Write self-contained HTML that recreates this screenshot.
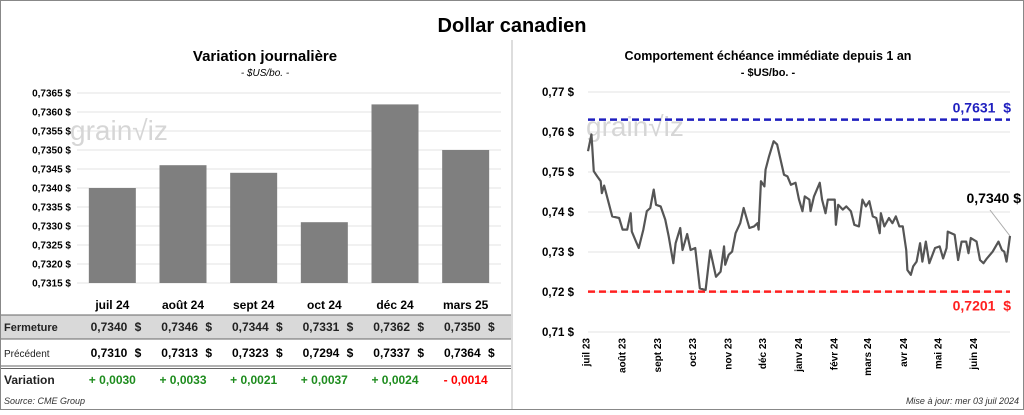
<!DOCTYPE html>
<html><head><meta charset="utf-8"><style>
body{margin:0;width:1024px;height:410px;overflow:hidden;background:#fff;font-family:"Liberation Sans",sans-serif}
svg text{font-family:"Liberation Sans",sans-serif}
</style></head><body>
<svg id="s" width="1024" height="410" viewBox="0 0 1024 410" xmlns="http://www.w3.org/2000/svg">
<rect x="0.5" y="0.5" width="1023" height="409" fill="#fff" stroke="#888"/>
<line x1="512" y1="40" x2="512" y2="409" stroke="#bbb"/>
<text x="512" y="32" text-anchor="middle" font-size="20" font-weight="bold">Dollar canadien</text>
<text x="265" y="61" text-anchor="middle" font-size="15" font-weight="bold">Variation  journalière</text>
<text x="265" y="76" text-anchor="middle" font-size="10" font-style="italic">- $US/bo. -</text>
<text x="768" y="60" text-anchor="middle" font-size="12.5" font-weight="bold">Comportement échéance immédiate depuis 1 an</text>
<text x="768" y="76" text-anchor="middle" font-size="11" font-weight="bold">- $US/bo. -</text>
<g id="left"></g>
<g id="right"></g>
<g id="table"></g>
<text x="4" y="404" font-size="9" font-style="italic" fill="#333">Source: CME Group</text>
<text x="1019" y="404" text-anchor="end" font-size="9" font-style="italic" fill="#333">Mise à jour: mer 03 juil 2024</text>
</svg>
<script>
const barCats=["juil 24","août 24","sept 24","oct 24","déc 24","mars 25"];
const closeVals=[0.7340,0.7346,0.7344,0.7331,0.7362,0.7350];
const prevVals=[0.7310,0.7313,0.7323,0.7294,0.7337,0.7364];
const varLabels=["+ 0,0030","+ 0,0033","+ 0,0021","+ 0,0037","+ 0,0024","- 0,0014"];
const barTicks=[0.7315,0.7320,0.7325,0.7330,0.7335,0.7340,0.7345,0.7350,0.7355,0.7360,0.7365];
const lineDays=[0,3,5,8,11,12,14,18,21,27,30,34,37,38,44,48,51,54,57,59,63,67,70,74,76,80,82,86,89,93,97,102,106,111,115,118,119,122,125,128,132,135,140,144,147,148,150,153,154,157,161,164,167,170,173,176,180,183,186,188,192,193,196,201,203,206,208,214,215,217,221,224,228,231,235,238,241,244,247,250,253,254,257,261,264,267,270,273,276,277,280,282,285,288,290,293,296,301,305,308,311,312,318,321,324,328,330,332,337,340,343,346,351,356,359,361,363,366];
const lineVals=[0.7552,0.7594,0.7502,0.7489,0.7477,0.7447,0.7466,0.7422,0.7389,0.7385,0.7356,0.7356,0.7397,0.7351,0.7310,0.7356,0.7402,0.7410,0.7456,0.7418,0.7414,0.7381,0.7339,0.7272,0.7322,0.7360,0.7305,0.7345,0.7305,0.7310,0.7209,0.7205,0.7304,0.7238,0.7251,0.7314,0.7268,0.7293,0.7301,0.7347,0.7372,0.7410,0.7360,0.7364,0.7372,0.7356,0.7477,0.7464,0.7506,0.7539,0.7577,0.7569,0.7531,0.7493,0.7489,0.7468,0.7473,0.7431,0.7402,0.7439,0.7431,0.7402,0.7439,0.7473,0.7431,0.7397,0.7431,0.7431,0.7368,0.7418,0.7406,0.7414,0.7402,0.7368,0.7364,0.7431,0.7414,0.7427,0.7389,0.7385,0.7347,0.7397,0.7364,0.7385,0.7372,0.7389,0.7364,0.7364,0.7305,0.7255,0.7243,0.7264,0.7276,0.7322,0.7276,0.7326,0.7272,0.7310,0.7314,0.7284,0.7310,0.7351,0.7343,0.7280,0.7326,0.7326,0.7297,0.7335,0.7326,0.7280,0.7272,0.7284,0.7301,0.7326,0.7305,0.7301,0.7276,0.7340];
const lineTicks=[0.71,0.72,0.73,0.74,0.75,0.76,0.77];
const monthLabels=["juil 23","août 23","sept 23","oct 23","nov 23","déc 23","janv 24","févr 24","mars 24","avr 24","mai 24","juin 24"];
const monthDays=[-2,29,60,90,121,151,182,213,242,273,303,334];
const highVal=0.7631, lowVal=0.7201, lastVal=0.7340;

const NS="http://www.w3.org/2000/svg";
function mk(p,t,a,txt){const e=document.createElementNS(NS,t);for(const k in a)e.setAttribute(k,a[k]);if(txt!==undefined)e.textContent=txt;p.appendChild(e);return e;}
const fmt=(v,d)=>v.toFixed(d).replace('.',',');

const L=document.getElementById('left');
const bx0=77,bx1=501,by=v=>283-(v-0.7315)/0.0005*19;
const bw=(bx1-bx0)/barCats.length;
barTicks.forEach(t=>{
 const g=mk(L,'line',{x1:bx0,x2:bx1,y1:by(t),y2:by(t),stroke:'#e3e3e3'});
 
 const l=mk(L,'text',{x:71,y:by(t)+3.5,'text-anchor':'end','font-size':'10','font-weight':'bold'},fmt(t,4)+' $');
 
});
const wm1=mk(L,'text',{x:70,y:140,'font-size':'28',fill:'#d6d6d6'},'grain\u221Aiz');

closeVals.forEach((v,i)=>{
 const cx=bx0+bw*(i+0.5);
 const r=mk(L,'rect',{x:cx-23.5,y:by(v),width:47,height:283-by(v),fill:'#7f7f7f'});
 
});

const T=document.getElementById('table');
const colX=i=>bx0+bw*(i+0.5);
mk(T,'rect',{x:1,y:315,width:510,height:24,fill:'#d9d9d9'});
mk(T,'line',{x1:1,x2:511,y1:315,y2:315,stroke:'#666'});
mk(T,'line',{x1:1,x2:511,y1:339,y2:339,stroke:'#666'});
mk(T,'line',{x1:1,x2:511,y1:366,y2:366,stroke:'#666'});
mk(T,'line',{x1:1,x2:511,y1:368.5,y2:368.5,stroke:'#666'});
const rl=[['Fermeture',331,11,'bold'],['Précédent',357,10,'normal'],['Variation',384,12,'bold']];
rl.forEach(r=>{const e=mk(T,'text',{x:4,y:r[1],'font-size':r[2],'font-weight':r[3],fill:'#222'},r[0]);});
barCats.forEach((c,i)=>{
 const x=colX(i);
 const h=mk(T,'text',{x:x,y:309,'text-anchor':'middle','font-size':'12','font-weight':'bold'},c);
 
 const a=mk(T,'text',{x:x+15,y:331,'text-anchor':'end','font-size':'12','font-weight':'bold',fill:'#222'},fmt(closeVals[i],4));
 
 const a2=mk(T,'text',{x:x+29,y:331,'text-anchor':'end','font-size':'12','font-weight':'bold',fill:'#222'},'$');
 
 const b=mk(T,'text',{x:x+15,y:357,'text-anchor':'end','font-size':'12','font-weight':'bold'},fmt(prevVals[i],4));
 
 const b2=mk(T,'text',{x:x+29,y:357,'text-anchor':'end','font-size':'12','font-weight':'bold'},'$');
 
 const neg=varLabels[i].startsWith('-');
 const d=mk(T,'text',{x:x,y:384,'text-anchor':'middle','font-size':'12','font-weight':'bold',fill:neg?'#ff0000':'#1e8c1e'},varLabels[i]);
 
});

const R=document.getElementById('right');
const lx0=588,lx1=1010,ly=v=>92+(0.77-v)/0.06*240,lx=d=>lx0+d*(lx1-lx0)/366;
lineTicks.forEach(t=>{
 const g=mk(R,'line',{x1:lx0,x2:lx1,y1:ly(t),y2:ly(t),stroke:'#e3e3e3'});
 
 const l=mk(R,'text',{x:574,y:ly(t)+4,'text-anchor':'end','font-size':'11.5','font-weight':'bold'},fmt(t,2)+' $');
 
});
const wm2=mk(R,'text',{x:586,y:136,'font-size':'28',fill:'#d6d6d6'},'grain\u221Aiz');

monthLabels.forEach((m,i)=>{
 const x=lx(monthDays[i]);
 const e=mk(R,'text',{x:0,y:0,'text-anchor':'end','font-size':'10','font-weight':'bold',transform:`translate(${x+4},${338}) rotate(-90)`},m);
 
});
const hl=mk(R,'line',{x1:lx0,x2:lx1,y1:ly(highVal),y2:ly(highVal),stroke:'#1f1fbf','stroke-width':2.5,'stroke-dasharray':'7 4'});

const ll=mk(R,'line',{x1:lx0,x2:lx1,y1:ly(lowVal),y2:ly(lowVal),stroke:'#ff2020','stroke-width':2.5,'stroke-dasharray':'7 4'});

const ht=mk(R,'text',{x:1011,y:ly(highVal)-7,'text-anchor':'end','font-size':'14','font-weight':'bold',fill:'#1f1fbf'},fmt(highVal,4)+'\u00a0 $');

const lt=mk(R,'text',{x:1011,y:ly(lowVal)+19,'text-anchor':'end','font-size':'14','font-weight':'bold',fill:'#ff2020'},fmt(lowVal,4)+'\u00a0 $');

const pl=mk(R,'polyline',{points:lineDays.map((d,i)=>lx(d)+','+ly(lineVals[i])).join(' '),fill:'none',stroke:'#555','stroke-width':2.2,'stroke-linejoin':'round'});

const lastX=lx(lineDays[lineDays.length-1]);
const cl=mk(R,'line',{x1:lastX,y1:ly(lastVal),x2:lastX-20,y2:ly(lastVal)-26,stroke:'#aaa'});

const la=mk(R,'text',{x:1021,y:ly(lastVal)-33,'text-anchor':'end','font-size':'14','font-weight':'bold'},fmt(lastVal,4)+' $');

</script>
</body></html>
